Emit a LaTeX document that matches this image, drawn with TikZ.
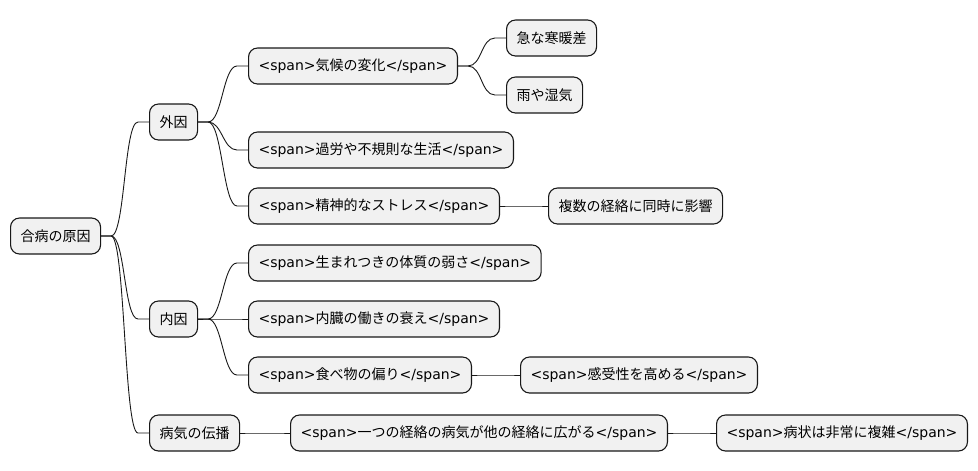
\documentclass[tikz,border=0pt]{standalone}
\usepackage{fontspec}
\setmainfont{Noto Sans CJK JP}
\newfontfamily\latinfont{DejaVu Sans}
\usetikzlibrary{calc,positioning}
\definecolor{boxfill}{HTML}{F1F1F1}
\definecolor{boxline}{HTML}{181818}
\newcommand\spantag[1]{{\latinfont <span>}#1{\latinfont </span>}}

\begin{document}
\begin{tikzpicture} [x=1pt,y=-1pt,
    topic/.style={draw=boxline,fill=boxfill,line width=1.1pt,rounded corners=9pt,
      anchor=west,inner xsep=10pt,inner ysep=0pt,minimum height=36pt,
      font=\fontsize{14}{16}\selectfont},
    link/.style={draw=boxline,line width=0.9pt}]

  \useasboundingbox (0,0) rectangle (978,471);

  \node[topic] (root) at (10,236) {合病の原因};

  \node[topic] (gai) at (149,122) {外因};
  \node[topic] (nai) at (149,319) {内因};
  \node[topic] (den) at (149,433) {病気の伝播};

  \node[topic] (kiko) at (248,66) {\spantag{気候の変化}};
  \node[topic] (kyu) at (506,38) {急な寒暖差};
  \node[topic] (ame) at (506,95) {雨や湿気};
  \node[topic] (karo) at (248,150) {\spantag{過労や不規則な生活}};
  \node[topic] (seishin) at (248,206) {\spantag{精神的なストレス}};
  \node[topic] (fukusu) at (548,206) {複数の経絡に同時に影響};

  \node[topic] (umare) at (248,263) {\spantag{生まれつきの体質の弱さ}};
  \node[topic] (naizo) at (248,319) {\spantag{内臓の働きの衰え}};
  \node[topic] (tabe) at (248,375) {\spantag{食べ物の偏り}};
  \node[topic] (kanju) at (520,375) {\spantag{感受性を高める}};

  \node[topic] (hitotsu) at (290,433) {\spantag{一つの経絡の病気が他の経絡に広がる}};
  \node[topic] (byojo) at (716,433) {\spantag{病状は非常に複雑}};

  \foreach \a/\b in {root/gai,root/nai,root/den,gai/kiko,gai/karo,gai/seishin,
      kiko/kyu,kiko/ame,seishin/fukusu,nai/umare,nai/naizo,nai/tabe,
      tabe/kanju,den/hitotsu,hitotsu/byojo}
    \draw[link] (\a.east) -- ++(10,0)
      .. controls +(14,0) and +(-14,0) .. ($(\b.west)+(-11,0)$) -- (\b.west);

\end{tikzpicture}
\end{document}
